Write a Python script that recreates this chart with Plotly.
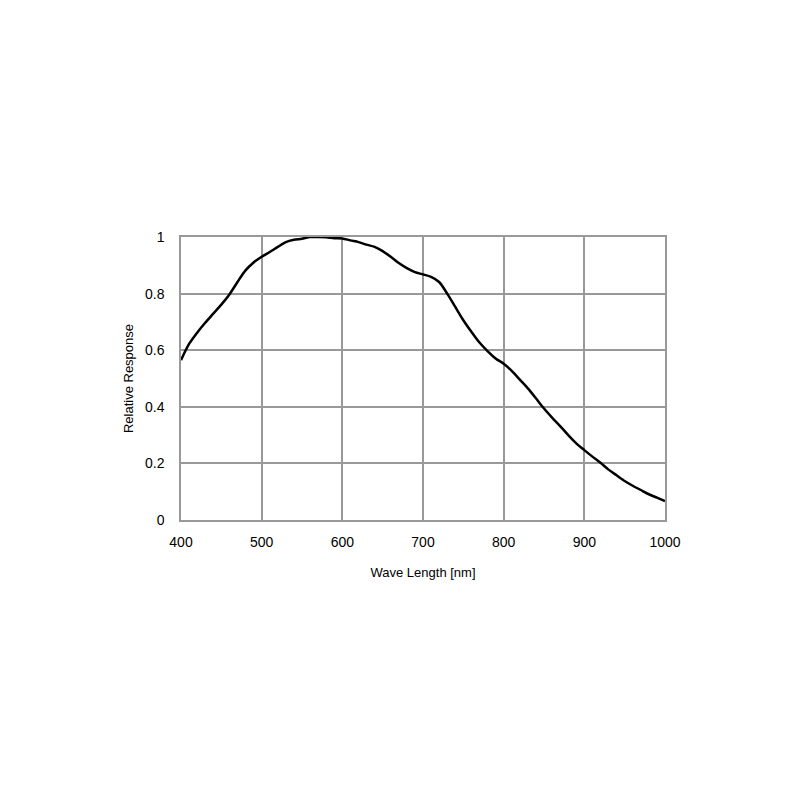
import plotly.graph_objects as go

wavelength = [400, 410, 420, 430, 440, 450, 460, 470, 480, 490, 500, 510, 520, 530, 540, 550,
              560, 570, 580, 590, 600, 610, 620, 630, 640, 650, 660, 670, 680, 690, 700, 710,
              720, 730, 740, 750, 760, 770, 780, 790, 800, 810, 820, 830, 840, 850, 860, 870,
              880, 890, 900, 910, 920, 930, 940, 950, 960, 970, 980, 990, 1000]
response = [0.565, 0.622, 0.662, 0.697, 0.729, 0.761, 0.797, 0.841, 0.882, 0.910, 0.930, 0.947,
            0.965, 0.982, 0.990, 0.994, 1.000, 1.000, 0.999, 0.996, 0.995, 0.988, 0.982, 0.973,
            0.965, 0.950, 0.930, 0.908, 0.890, 0.876, 0.868, 0.859, 0.841, 0.800, 0.753, 0.706,
            0.665, 0.627, 0.597, 0.571, 0.552, 0.527, 0.496, 0.465, 0.430, 0.394, 0.362, 0.332,
            0.300, 0.271, 0.247, 0.224, 0.202, 0.178, 0.158, 0.138, 0.121, 0.106, 0.091, 0.079,
            0.067]

x_ticks = [400, 500, 600, 700, 800, 900, 1000]
y_ticks = [0, 0.2, 0.4, 0.6, 0.8, 1]
y_tick_labels = ["0", "0.2", "0.4", "0.6", "0.8", "1"]

fig = go.Figure()
fig.add_trace(go.Scatter(x=wavelength, y=response, mode="lines",
                         line=dict(color="black", width=2.5, shape="spline", smoothing=0.8),
                         showlegend=False))

font_family = "Liberation Sans, Arial, sans-serif"
fig.update_layout(
    width=800, height=800,
    margin=dict(l=173, r=143, t=229, b=288),
    paper_bgcolor="white", plot_bgcolor="white",
    font=dict(family=font_family, color="black", size=13),
    xaxis=dict(range=[400, 1000], tickvals=x_ticks, ticks="outside", ticklen=8,
               tickcolor="rgba(0,0,0,0)", showgrid=True,
               gridcolor="#999999", gridwidth=1.5, showline=True, linecolor="#999999",
               linewidth=1.5, mirror=True, zeroline=False,
               title=dict(text="Wave Length [nm]", font=dict(size=13), standoff=19),
               tickfont=dict(size=14)),
    yaxis=dict(range=[0, 1], tickvals=y_ticks, ticktext=y_tick_labels, ticks="outside",
               ticklen=12, tickcolor="rgba(0,0,0,0)",
               showgrid=True, gridcolor="#999999", gridwidth=1.5, showline=True,
               linecolor="#999999", linewidth=1.5, mirror=True, zeroline=False,
               title=dict(text="Relative Response", font=dict(size=13), standoff=8),
               tickfont=dict(size=14)),
)
fig.write_html("out.html")
